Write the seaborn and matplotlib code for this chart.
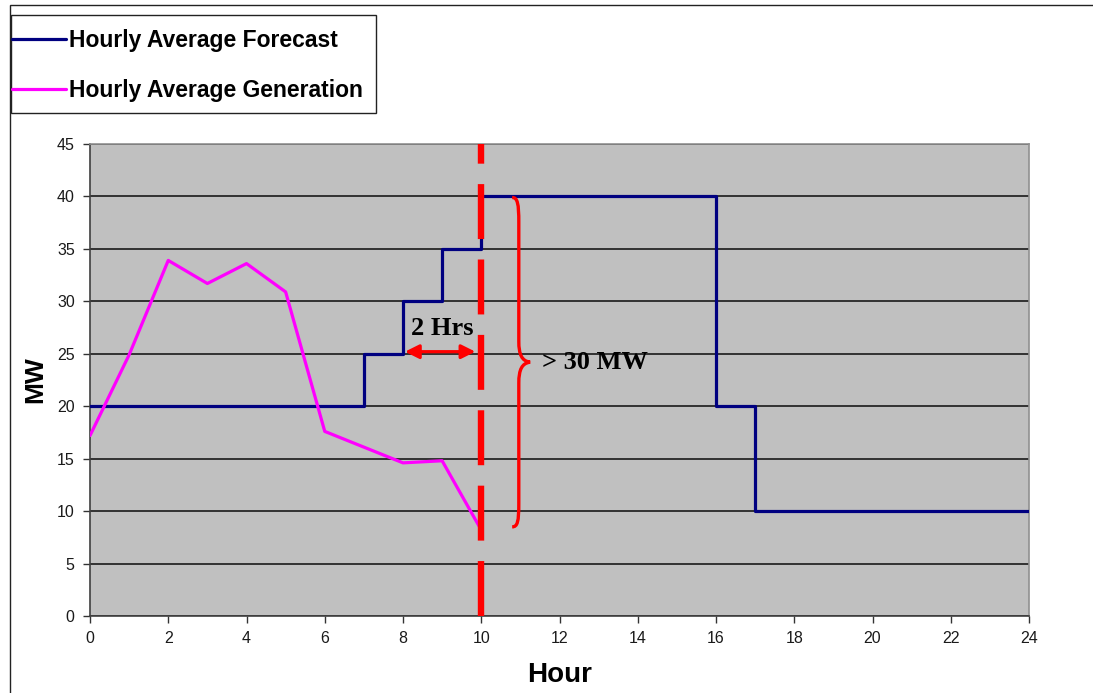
import numpy as np
import pandas as pd
import seaborn as sns
import matplotlib.pyplot as plt
from matplotlib.path import Path
from matplotlib.patches import PathPatch, Rectangle

# hourly average generation (MW), hours 0..10
gen_hours = [0, 1, 2, 3, 4, 5, 6, 7, 8, 9, 10]
gen_mw = [17.2, 24.9, 33.9, 31.7, 33.6, 30.9, 17.6, 16.1, 14.6, 14.8, 8.2]

# hourly average forecast (MW), step changes
fc_hours = [0, 7, 8, 9, 10, 16, 17, 24]
fc_mw = [20, 25, 30, 35, 40, 20, 10, 10]

x_ticks = list(range(0, 25, 2))
y_ticks = list(range(0, 46, 5))

event_hour = 10

sns.set_style("white")
plt.rcParams['font.family'] = ['Liberation Sans', 'DejaVu Sans']
plt.rcParams['text.color'] = 'black'
plt.rcParams['axes.labelcolor'] = 'black'

W, H = 1093, 693
fig = plt.figure(figsize=(W / 100, H / 100), dpi=100)
ax = fig.add_axes([90 / W, 1 - 616 / H, (1029 - 90) / W, (616 - 144) / H])
ax.set_facecolor('#c0c0c0')

df_fc = pd.DataFrame({"Hour": fc_hours, "MW": fc_mw})
df_gen = pd.DataFrame({"Hour": gen_hours, "MW": gen_mw})

sns.lineplot(data=df_fc, x="Hour", y="MW", drawstyle='steps-post', color='#000080',
             lw=2.3, ax=ax, label="Hourly Average Forecast", zorder=3)
sns.lineplot(data=df_gen, x="Hour", y="MW", color='#ff00ff', lw=2.3, ax=ax,
             label="Hourly Average Generation", zorder=3)

ax.set_xlim(0, 24)
ax.set_ylim(0, 45)
ax.set_xticks(x_ticks)
ax.set_yticks(y_ticks)
ax.yaxis.grid(True, color='#1a1a1a', lw=1.2)
ax.set_axisbelow(True)
ax.tick_params(axis='both', which='both', direction='out', length=5, width=1,
               color='#333333', labelsize=11.5, labelcolor='#1a1a1a', pad=6,
               left=True, bottom=True)
for s in ['left', 'bottom']:
    ax.spines[s].set_color('#404040')
    ax.spines[s].set_linewidth(1.2)
for s in ['top', 'right']:
    ax.spines[s].set_color('#909090')
    ax.spines[s].set_linewidth(1.2)

ax.set_xlabel("Hour", fontsize=20, fontweight='bold', labelpad=11)
ax.set_ylabel("MW", fontsize=19, fontweight='bold', labelpad=7)

# red dashed event line
ax.plot([event_hour, event_hour], [0, 45], color='#ff0000', lw=4.6,
        dashes=(8.6, 3.2), solid_capstyle='butt', dash_capstyle='butt',
        zorder=5, clip_on=False)

serif = ['Liberation Serif', 'DejaVu Serif']

# 2 Hrs double arrow
ax.annotate("", xy=(8.05, 25.2), xytext=(9.85, 25.2),
            arrowprops=dict(arrowstyle='<|-|>', color='#ff0000', lw=2.3,
                            mutation_scale=21, shrinkA=0, shrinkB=0), zorder=6)
ax.text(9.0, 27.4, "2 Hrs", fontsize=19, fontweight='bold', family=serif,
        ha='center', va='center', zorder=6)

# curly brace
bx, tip, end = 10.96, 11.25, 10.79
verts = [(end, 39.9), (bx - 0.03, 39.9), (bx, 39.3), (bx, 37.5),
         (bx, 26.2),
         (bx, 24.9), (bx + 0.08, 24.3), (tip, 24.2),
         (bx + 0.08, 24.1), (bx, 23.5), (bx, 22.2),
         (bx, 10.8),
         (bx, 9.0), (bx - 0.03, 8.5), (end, 8.5)]
codes = [Path.MOVETO, Path.CURVE4, Path.CURVE4, Path.CURVE4,
         Path.LINETO,
         Path.CURVE4, Path.CURVE4, Path.CURVE4,
         Path.CURVE4, Path.CURVE4, Path.CURVE4,
         Path.LINETO,
         Path.CURVE4, Path.CURVE4, Path.CURVE4]
ax.add_patch(PathPatch(Path(verts, codes), facecolor='none', edgecolor='#ff0000',
                       lw=2.4, zorder=6))
ax.text(11.55, 24.2, "> 30 MW", fontsize=19, fontweight='bold', family=serif,
        ha='left', va='center', zorder=6)

# legend (frame drawn separately)
ax.get_legend().remove()
handles, labels = ax.get_legend_handles_labels()
leg = fig.legend(handles, labels, loc='upper left',
                 bbox_to_anchor=(12 / W, 1 - 29 / H), bbox_transform=fig.transFigure,
                 borderaxespad=0, frameon=False,
                 prop={'size': 16.5, 'weight': 'bold'}, handlelength=2.35,
                 handletextpad=0.13, labelspacing=1.16, borderpad=0)
for t in leg.get_texts():
    t.set_color('black')
fig.patches.append(Rectangle((11 / W, 1 - 113 / H), (376 - 11) / W, (113 - 15) / H,
                             transform=fig.transFigure, fill=False,
                             edgecolor='#222222', lw=1.0, zorder=0))

# outer chart border
fig.patches.append(Rectangle((10 / W, -0.1), 1.2, 1 - 5 / H + 0.1,
                             transform=fig.transFigure, fill=False,
                             edgecolor='#222222', lw=1.0, zorder=0))

fig.savefig("out.png", dpi=100)
